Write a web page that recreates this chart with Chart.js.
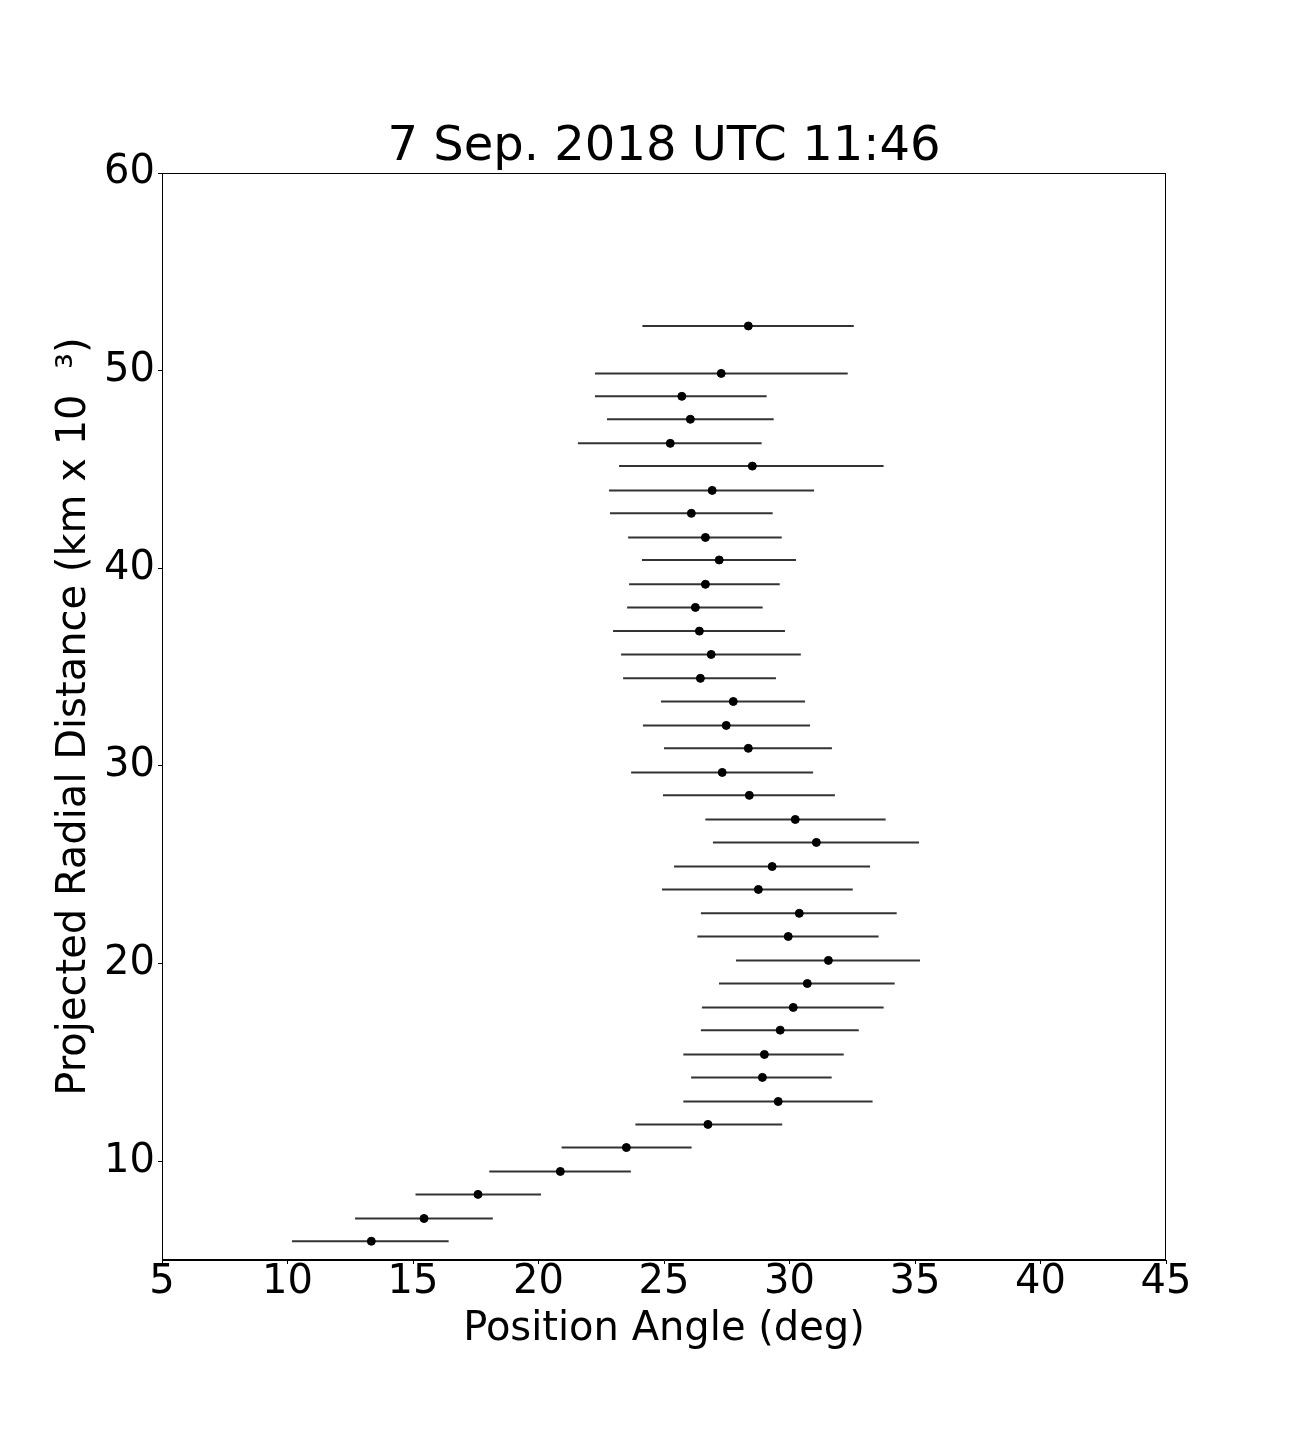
<!DOCTYPE html>
<html>
<head>
<meta charset="utf-8">
<script src="https://cdn.jsdelivr.net/npm/chart.js@4.4.1/dist/chart.umd.min.js"></script>
<style>
  body { margin: 0; background: #fff; }
</style>
</head>
<body>
<canvas id="myChart" width="1296" height="1440"></canvas>
<script>
// projected radial distance (km x 10^3)
const radialDist = [52.26, 49.86, 48.70, 47.54, 46.32, 45.17, 43.94, 42.78, 41.56, 40.42,
    39.19, 38.02, 36.82, 35.64, 34.43, 33.26, 32.05, 30.89, 29.67, 28.51,
    27.29, 26.13, 24.91, 23.75, 22.54, 21.37, 20.16, 18.99, 17.78, 16.63,
    15.40, 14.24, 13.02, 11.86, 10.69, 9.48, 8.32, 7.10, 5.95];

// position angle (deg)
const posAngle = [28.36, 27.28, 25.71, 26.05, 25.25, 28.52, 26.92, 26.09, 26.65, 27.20,
    26.65, 26.25, 26.41, 26.88, 26.45, 27.76, 27.48, 28.36, 27.32, 28.40,
    30.23, 31.07, 29.31, 28.76, 30.39, 29.95, 31.55, 30.71, 30.15, 29.63,
    29.00, 28.92, 29.55, 26.75, 23.50, 20.87, 17.59, 15.44, 13.34];

// error bar ends
const errLow = [24.14, 22.25, 22.25, 22.73, 21.57, 23.21, 22.81, 22.85, 23.57, 24.12,
    23.61, 23.53, 22.97, 23.29, 23.37, 24.88, 24.16, 25.00, 23.69, 24.96,
    26.65, 26.95, 25.40, 24.92, 26.47, 26.33, 27.87, 27.19, 26.51, 26.47,
    25.77, 26.08, 25.77, 23.86, 20.92, 18.04, 15.10, 12.69, 10.18];
const errHigh = [32.56, 32.32, 29.09, 29.37, 28.89, 33.75, 30.98, 29.33, 29.69, 30.26,
    29.61, 28.93, 29.82, 30.45, 29.46, 30.62, 30.82, 31.69, 30.94, 31.81,
    33.83, 35.16, 33.21, 32.52, 34.27, 33.55, 35.20, 34.19, 33.75, 32.76,
    32.16, 31.68, 33.31, 29.71, 26.10, 23.68, 20.10, 18.18, 16.42];

const yTicks = [10, 20, 30, 40, 50, 60];

const font = 'DejaVu Sans';

const datasets = [];
for (let i = 0; i < radialDist.length; i++) {
    datasets.push({
        data: [{ x: errLow[i], y: radialDist[i] }, { x: errHigh[i], y: radialDist[i] }],
        showLine: true,
        borderColor: '#333',
        borderWidth: 2,
        pointRadius: 0,
        order: 2
    });
}
datasets.push({
    data: posAngle.map((v, i) => ({ x: v, y: radialDist[i] })),
    backgroundColor: '#000',
    borderColor: '#000',
    pointRadius: 4,
    order: 1
});

// full box round the plot + centre the title on the plot area
const frame = {
    id: 'frame',
    afterLayout(chart) {
        const a = chart.chartArea;
        if (chart.titleBlock) {
            chart.titleBlock.left = a.left;
            chart.titleBlock.right = a.right;
            chart.titleBlock.width = a.right - a.left;
        }
    },
    afterDatasetsDraw(chart) {
        const { ctx, chartArea: a } = chart;
        ctx.save();
        ctx.strokeStyle = '#000';
        ctx.lineWidth = 1;
        ctx.strokeRect(a.left + 0.5, a.top + 0.5, a.right - a.left - 1, a.bottom - a.top - 1);
        ctx.restore();
    }
};

const ctx = document.getElementById('myChart');

new Chart(ctx, {
    type: 'scatter',
    data: { datasets: datasets },
    plugins: [frame],
    options: {
        responsive: false,
        devicePixelRatio: 1,
        animation: false,
        layout: { padding: { left: 51, right: 130, top: 0, bottom: 86 } },
        plugins: {
            legend: { display: false },
            tooltip: { enabled: false },
            title: {
                display: true,
                text: '7 Sep. 2018 UTC 11:46',
                color: '#000',
                font: { family: font, size: 48, weight: 'normal', lineHeight: 1 },
                padding: { top: 124, bottom: 1 }
            }
        },
        scales: {
            x: {
                type: 'linear',
                min: 5,
                max: 45,
                afterFit(scale) { scale.height = 94; },
                ticks: {
                    stepSize: 5,
                    color: '#000',
                    padding: 1,
                    font: { family: font, size: 40, lineHeight: 0.9 }
                },
                grid: { drawOnChartArea: false, drawTicks: true, tickLength: 4, tickColor: '#000' },
                border: { display: true, color: '#000', width: 1 },
                title: {
                    display: true,
                    text: 'Position Angle (deg)',
                    color: '#000',
                    padding: 0,
                    font: { family: font, size: 40 }
                }
            },
            y: {
                type: 'linear',
                min: 5,
                max: 60,
                afterFit(scale) { scale.width = 111; },
                afterBuildTicks(scale) {
                    scale.ticks = yTicks.map(v => ({ value: v }));
                },
                ticks: {
                    color: '#000',
                    padding: 3,
                    font: { family: font, size: 40 }
                },
                grid: { drawOnChartArea: false, drawTicks: true, tickLength: 4, tickColor: '#000' },
                border: { display: true, color: '#000', width: 1 },
                title: {
                    display: true,
                    text: 'Projected Radial Distance (km x 10  \u00b3)',
                    color: '#000',
                    padding: 0,
                    font: { family: font, size: 40 }
                }
            }
        }
    }
});
</script>
</body>
</html>
